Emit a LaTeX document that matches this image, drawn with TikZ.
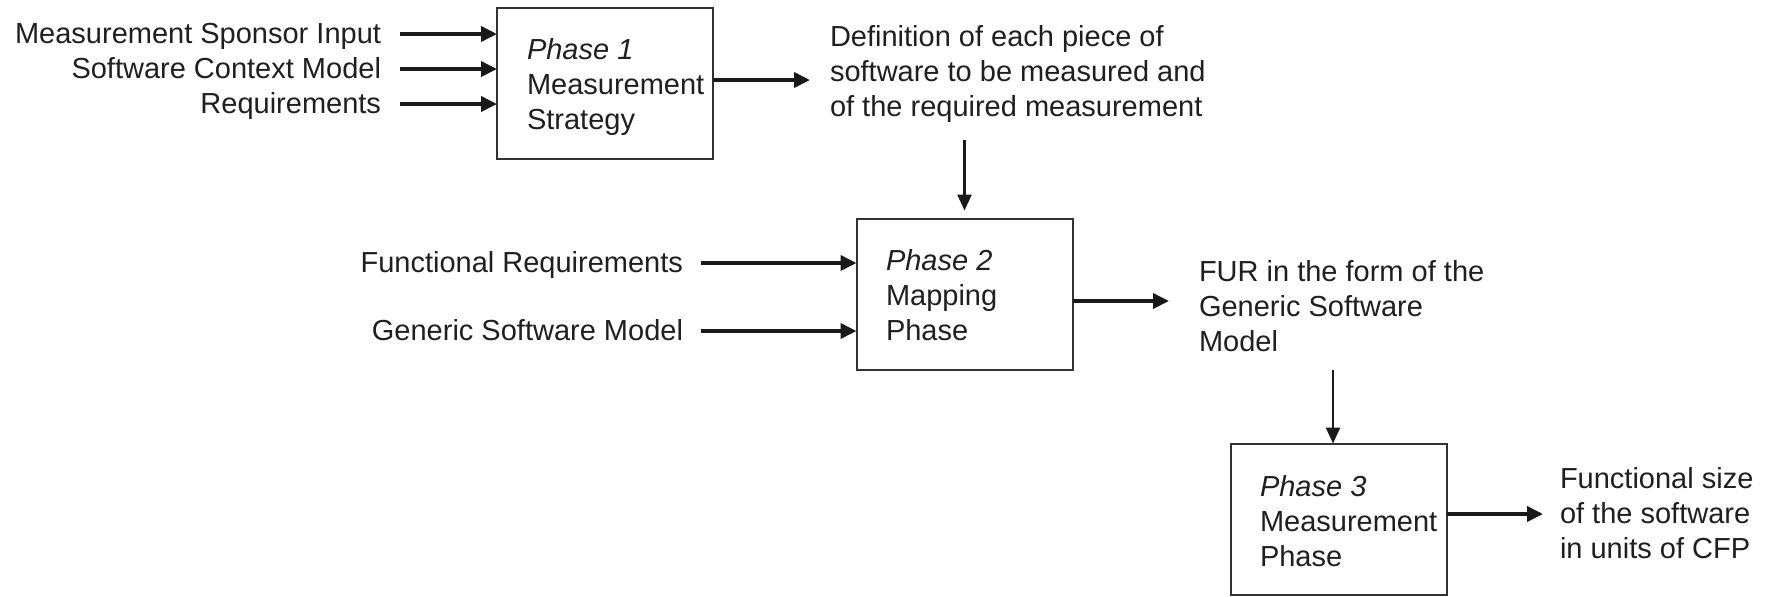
\documentclass[tikz,border=0pt]{standalone}
\usepackage{fontspec}
\setmainfont{Liberation Sans}
\usetikzlibrary{arrows.meta,calc}
\newcommand\Ls{\rule[-5.25pt]{0pt}{17.5pt}}
\begin{document}
\begin{tikzpicture}[x=0.5pt,y=-0.5pt,
  every node/.style={inner sep=0pt, outer sep=0pt, text=black!88},
  lbl/.style={font=\fontsize{14.5pt}{17.5pt}\selectfont, text height=12pt, text depth=3pt},
  multi/.style={font=\fontsize{14.5pt}{17.5pt}\selectfont, align=left, anchor=north west},
  phasebox/.style={draw=black!80, line width=1pt, minimum width=108pt, minimum height=75.5pt},
  arr/.style={line width=1.8pt, black!90, -{Triangle[length=8pt,width=7.5pt]}},
  varr/.style={line width=1.3pt, black!90, -{Triangle[length=8pt,width=7pt]}}]
\useasboundingbox (0,0) rectangle (1770,596);
% boxes
\node[phasebox] (p1) at (605,83.5) {};
\node[phasebox] (p2) at (964.5,294) {};
\node[phasebox] (p3) at (1339,519) {};
% box texts
\node[multi] (t1) at (527,34.5) {\Ls\textit{Phase 1}\\\Ls Measurement\\\Ls Strategy};
\node[multi] (t2) at (886,245.5) {\Ls\textit{Phase 2}\\\Ls Mapping\\\Ls Phase};
\node[multi] (t3) at (1260,471.5) {\Ls\textit{Phase 3}\\\Ls Measurement\\\Ls Phase};
% inputs phase 1
\node[lbl, anchor=base east] (msi) at (381,43) {Measurement Sponsor Input};
\node[lbl, anchor=base east] (scm) at (381,78) {Software Context Model};
\node[lbl, anchor=base east] (req) at (381,113) {Requirements};
\draw[arr] ([xshift=9.5pt]msi.east) -- (msi.east -| p1.west);
\draw[arr] ([xshift=9.5pt]scm.east) -- (scm.east -| p1.west);
\draw[arr] ([xshift=9.5pt]req.east) -- (req.east -| p1.west);
% output phase 1
\node[multi] (def) at (830,21.5) {\Ls Definition of each piece of\\\Ls software to be measured and\\\Ls of the required measurement};
\draw[arr] ([yshift=1.75pt]p1.east) -- ([xshift=-10pt,yshift=1.75pt]def.west |- p1.east);
\draw[varr] ([yshift=-6.75pt]def.south -| p2.north) -- ([yshift=4pt]p2.north);
% inputs phase 2
\node[lbl, anchor=base east] (fr) at (683,272) {Functional Requirements};
\node[lbl, anchor=base east] (gsm) at (683,340) {Generic Software Model};
\draw[arr] ([xshift=9pt]fr.east) -- (fr.east -| p2.west);
\draw[arr] ([xshift=9pt]gsm.east) -- (gsm.east -| p2.west);
% output phase 2
\node[multi] (fur) at (1199,256.5) {\Ls FUR in the form of the\\\Ls Generic Software\\\Ls Model};
\draw[arr] ([yshift=-3.5pt]p2.east) -- ([xshift=-15pt,yshift=-3.5pt]fur.west |- p2.east);
\draw[varr] ([xshift=-3pt,yshift=-4.25pt]fur.south -| p3.north) -- ([xshift=-3pt]p3.north);
% output phase 3
\node[multi] (fs) at (1560,463.5) {\Ls Functional size\\\Ls of the software\\\Ls in units of CFP};
\draw[arr] ([yshift=2.5pt]p3.east) -- ([xshift=-8.5pt,yshift=2.5pt]fs.west |- p3.east);
\end{tikzpicture}
\end{document}
